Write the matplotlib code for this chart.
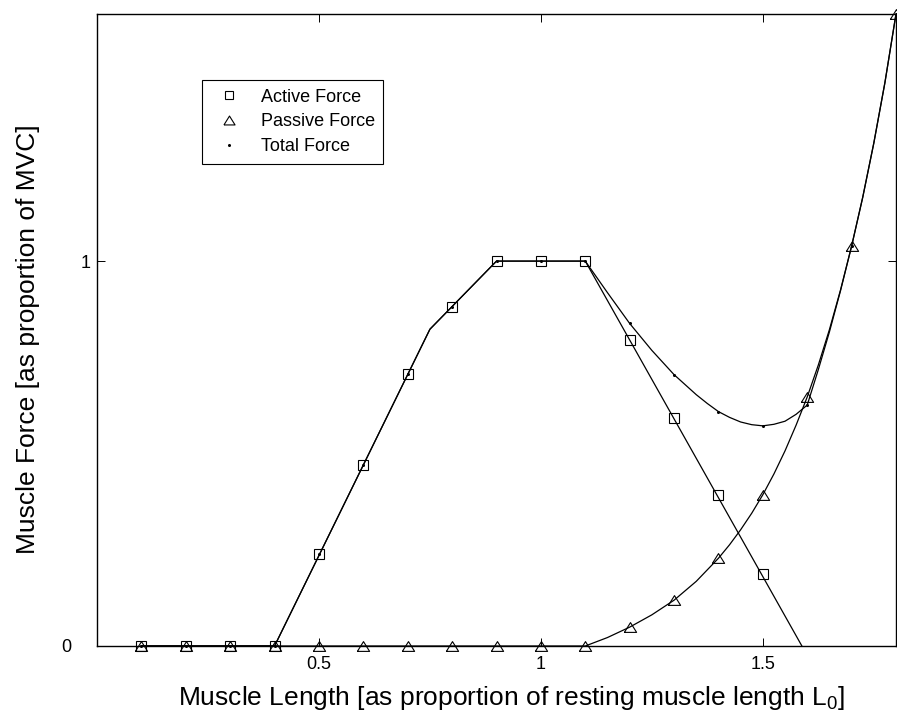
import numpy as np
import matplotlib
matplotlib.use("Agg")
import matplotlib.pyplot as plt
from matplotlib.lines import Line2D
from matplotlib.transforms import ScaledTranslation

plt.rcParams["font.family"] = ["Liberation Sans", "DejaVu Sans"]
plt.rcParams["mathtext.fontset"] = "custom"
plt.rcParams["mathtext.rm"] = "Liberation Sans"
plt.rcParams["mathtext.it"] = "Liberation Sans"

# ---- data ----
length = [0.1, 0.2, 0.3, 0.4, 0.5, 0.6, 0.7, 0.8, 0.9, 1.0,
          1.1, 1.2, 1.3, 1.4, 1.5, 1.6, 1.7, 1.8]
active_force = [0, 0, 0, 0, 0.239, 0.47, 0.706, 0.88, 1.0, 1.0,
                1.0, 0.795, 0.592, 0.392, 0.187]
passive_force = [0, 0, 0, 0, 0, 0, 0, 0, 0, 0,
                 0, 0.049, 0.119, 0.228, 0.393, 0.647, 1.039, 1.642]
total_force = [0, 0, 0, 0, 0.239, 0.47, 0.706, 0.88, 1.0, 1.0,
               1.0, 0.838, 0.705, 0.609, 0.572, 0.626, 1.039, 1.642]

# curve traces
active_curve_x = [0.1, 0.4, 0.75, 0.9, 1.1, 1.588]
active_curve_y = [0, 0, 0.823, 1.0, 1.0, 0]

passive_curve_x = [0.1, 1.1, 1.15, 1.2, 1.25, 1.3, 1.35, 1.4, 1.425, 1.45, 1.475, 1.5,
                   1.525, 1.55, 1.575, 1.6, 1.625, 1.65, 1.675, 1.7, 1.725, 1.75,
                   1.775, 1.8]
passive_curve_y = [0, 0, 0.022, 0.049, 0.081, 0.119, 0.168, 0.228, 0.263, 0.302, 0.345, 0.393,
                   0.447, 0.507, 0.574, 0.647, 0.730, 0.822, 0.925, 1.039, 1.166, 1.307,
                   1.464, 1.642]

total_curve_x = [0.1, 0.4, 0.75, 0.9, 1.1, 1.15, 1.2, 1.25, 1.3, 1.35, 1.375, 1.4,
                 1.425, 1.45, 1.475, 1.5, 1.525, 1.55, 1.575, 1.6, 1.625, 1.65,
                 1.675, 1.7, 1.725, 1.75, 1.775, 1.8]
total_curve_y = [0, 0, 0.823, 1.0, 1.0, 0.918, 0.838, 0.768, 0.705, 0.653, 0.630, 0.609,
                 0.594, 0.582, 0.575, 0.572, 0.576, 0.584, 0.602, 0.626, 0.718, 0.816,
                 0.923, 1.039, 1.165, 1.306, 1.463, 1.642]

x_ticks = [0.5, 1, 1.5]
x_tick_labels = ["0.5", "1", "1.5"]
y_ticks = [0, 1]
y_tick_labels = ["0", "1"]

legend_labels = ["Active Force", "Passive Force", "Total Force"]

# ---- figure ----
fig = plt.figure(figsize=(8.97, 7.19), dpi=100)
ax = fig.add_axes([97 / 897, 73 / 719, 799 / 897, 632 / 719])

tri = [(-1, -0.8), (1, -0.8), (0, 0.8), (-1, -0.8)]

lw = 0.9
ax.plot(active_curve_x, active_curve_y, color="black", lw=lw)
ax.plot(passive_curve_x, passive_curve_y, color="black", lw=lw)
ax.plot(total_curve_x, total_curve_y, color="black", lw=lw)

ax.plot(length[:len(active_force)], active_force, linestyle="none", marker="s",
        ms=6.6, mfc="none", mec="black", mew=0.8, clip_on=False)
ax.plot(length, passive_force, linestyle="none", marker=tri,
        ms=8.8, mfc="none", mec="black", mew=0.8, clip_on=False)
ax.plot(length, total_force, linestyle="none", marker="o",
        ms=2.2, mfc="black", mec="black", mew=0, clip_on=False)

ax.set_xlim(0, 1.8)
ax.set_ylim(0, 1.642)
ax.set_xticks(x_ticks)
ax.set_xticklabels(x_tick_labels)
ax.set_yticks(y_ticks)
ax.set_yticklabels(y_tick_labels)
ax.tick_params(direction="in", length=6, width=0.7, top=True, right=True,
               labelsize=13)
ax.tick_params(axis="x", pad=7)
ax.tick_params(axis="y", pad=4.5)
for s in ax.spines.values():
    s.set_linewidth(1.0)

# the "0" label sits further left in the reference
lab0 = ax.get_yticklabels()[0]
lab0.set_transform(lab0.get_transform() + ScaledTranslation(-19 / 100, 0, fig.dpi_scale_trans))

ax.set_xlabel(r"Muscle Length [as proportion of resting muscle length L$_0$]", fontsize=19)
ax.set_ylabel("Muscle Force [as proportion of MVC]", fontsize=19)
ax.xaxis.set_label_coords(0.519, -0.060)
ax.yaxis.set_label_coords(-0.071, 0.485)

handles = [
    Line2D([], [], linestyle="none", marker="s", ms=5.5, mfc="none", mec="black", mew=0.8),
    Line2D([], [], linestyle="none", marker=tri, ms=8.0, mfc="none", mec="black", mew=0.8),
    Line2D([], [], linestyle="none", marker="o", ms=2.2, mfc="black", mec="black", mew=0),
]
leg = fig.legend(handles, legend_labels, loc="upper left",
                 bbox_to_anchor=(202 / 897, 1 - 80 / 719), fontsize=13,
                 frameon=True, fancybox=False, shadow=False, framealpha=1,
                 edgecolor="black", borderpad=0.48, handlelength=2.05,
                 handletextpad=0.72, labelspacing=0.42, borderaxespad=0)
leg.get_frame().set_linewidth(0.8)

fig.savefig("out.png", dpi=100)
